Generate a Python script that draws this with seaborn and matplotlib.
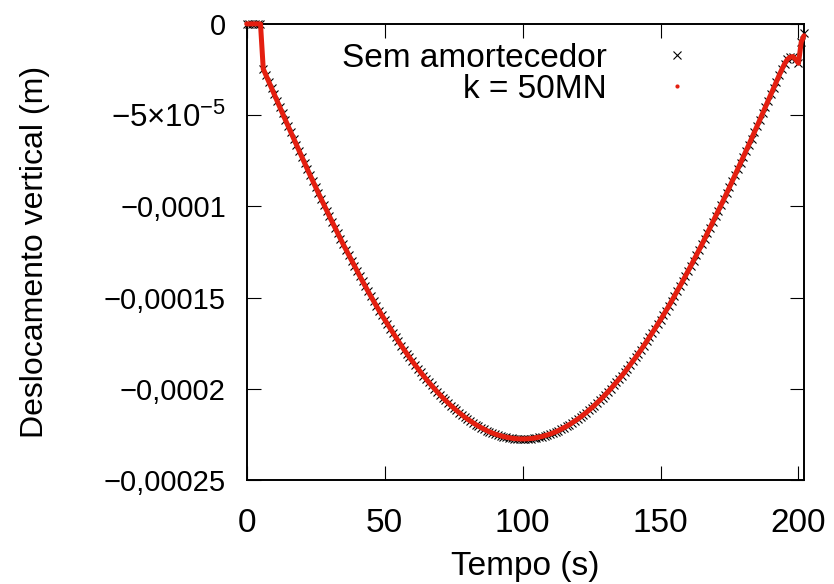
import matplotlib
matplotlib.use("Agg")
import matplotlib.pyplot as plt
import seaborn as sns
import pandas as pd
from matplotlib.lines import Line2D
from matplotlib.ticker import FixedLocator, FixedFormatter

# ---------------- data (deslocamento em micrometros) ----------------
tempo = [
    0, 1, 2, 3, 4, 5, 6, 7, 8, 9,
    10, 11, 12, 13, 14, 15, 16, 17, 18, 19,
    20, 21, 22, 23, 24, 25, 26, 27, 28, 29,
    30, 31, 32, 33, 34, 35, 36, 37, 38, 39,
    40, 41, 42, 43, 44, 45, 46, 47, 48, 49,
    50, 51, 52, 53, 54, 55, 56, 57, 58, 59,
    60, 61, 62, 63, 64, 65, 66, 67, 68, 69,
    70, 71, 72, 73, 74, 75, 76, 77, 78, 79,
    80, 81, 82, 83, 84, 85, 86, 87, 88, 89,
    90, 91, 92, 93, 94, 95, 96, 97, 98, 99,
    100, 101, 102, 103, 104, 105, 106, 107, 108, 109,
    110, 111, 112, 113, 114, 115, 116, 117, 118, 119,
    120, 121, 122, 123, 124, 125, 126, 127, 128, 129,
    130, 131, 132, 133, 134, 135, 136, 137, 138, 139,
    140, 141, 142, 143, 144, 145, 146, 147, 148, 149,
    150, 151, 152, 153, 154, 155, 156, 157, 158, 159,
    160, 161, 162, 163, 164, 165, 166, 167, 168, 169,
    170, 171, 172, 173, 174, 175, 176, 177, 178, 179,
    180, 181, 182, 183, 184, 185, 186, 187, 188, 189,
    190, 191, 192, 193, 194, 195, 196, 197, 198, 199,
    200, 201, 202,
]

k50mn_um = [
    0.0, 0.0, 0.0, 0.0, 0.0, 0.0, -24.7, -28.2, -31.7, -35.2,
    -38.7, -42.2, -45.7, -49.1, -52.6, -56.0, -59.5, -62.9, -66.3, -69.6,
    -73.0, -76.3, -79.7, -83.0, -86.2, -89.5, -92.8, -96.0, -99.2, -102.3,
    -105.5, -108.6, -111.7, -114.8, -117.8, -120.9, -123.8, -126.8, -129.7, -132.6,
    -135.5, -138.3, -141.1, -143.9, -146.6, -149.3, -152.0, -154.6, -157.2, -159.7,
    -162.1, -164.6, -167.0, -169.4, -171.7, -174.0, -176.3, -178.5, -180.7, -182.8,
    -184.9, -186.9, -188.9, -190.9, -192.8, -194.6, -196.4, -198.2, -199.9, -201.6,
    -203.2, -204.8, -206.3, -207.7, -209.2, -210.5, -211.8, -213.1, -214.3, -215.5,
    -216.6, -217.6, -218.6, -219.6, -220.5, -221.3, -222.1, -222.9, -223.6, -224.2,
    -224.8, -225.3, -225.7, -226.2, -226.5, -226.8, -227.1, -227.3, -227.4, -227.5,
    -227.5, -227.5, -227.4, -227.3, -227.1, -226.8, -226.5, -226.2, -225.7, -225.3,
    -224.8, -224.2, -223.6, -222.9, -222.1, -221.3, -220.5, -219.6, -218.6, -217.6,
    -216.6, -215.5, -214.3, -213.1, -211.8, -210.5, -209.2, -207.7, -206.3, -204.8,
    -203.2, -201.6, -199.9, -198.2, -196.4, -194.6, -192.8, -190.9, -188.9, -186.9,
    -184.9, -182.8, -180.7, -178.5, -176.3, -174.0, -171.7, -169.4, -167.0, -164.6,
    -162.1, -159.7, -157.2, -154.6, -152.0, -149.3, -146.6, -143.9, -141.1, -138.3,
    -135.5, -132.6, -129.7, -126.8, -123.8, -120.9, -117.8, -114.8, -111.7, -108.6,
    -105.5, -102.3, -99.2, -96.0, -92.8, -89.5, -86.2, -83.0, -79.7, -76.3,
    -73.0, -69.6, -66.3, -62.9, -59.5, -56.0, -52.6, -49.1, -45.7, -42.2,
    -38.7, -35.2, -31.7, -28.2, -24.9, -21.8, -19.4, -18.2, -17.9, -19.5,
    -21.6, -10.0, -6.5,
]

sem_amortecedor_um = [
    0.0, 0.0, 0.0, 0.0, 0.0, 0.0, -24.7, -28.2, -31.7, -35.2,
    -38.7, -42.2, -45.7, -49.1, -52.6, -56.0, -59.5, -62.9, -66.3, -69.6,
    -73.0, -76.3, -79.7, -83.0, -86.2, -89.5, -92.8, -96.0, -99.2, -102.3,
    -105.5, -108.6, -111.7, -114.8, -117.8, -120.9, -123.8, -126.8, -129.7, -132.6,
    -135.5, -138.3, -141.1, -143.9, -146.6, -149.3, -152.0, -154.6, -157.2, -159.7,
    -162.1, -164.6, -167.0, -169.4, -171.7, -174.0, -176.3, -178.5, -180.7, -182.8,
    -184.9, -186.9, -188.9, -190.9, -192.8, -194.6, -196.4, -198.2, -199.9, -201.6,
    -203.2, -204.8, -206.3, -207.7, -209.2, -210.5, -211.8, -213.1, -214.3, -215.5,
    -216.6, -217.6, -218.6, -219.6, -220.5, -221.3, -222.1, -222.9, -223.6, -224.2,
    -224.8, -225.3, -225.7, -226.2, -226.5, -226.8, -227.1, -227.3, -227.4, -227.5,
    -227.5, -227.5, -227.4, -227.3, -227.1, -226.8, -226.5, -226.2, -225.7, -225.3,
    -224.8, -224.2, -223.6, -222.9, -222.1, -221.3, -220.5, -219.6, -218.6, -217.6,
    -216.6, -215.5, -214.3, -213.1, -211.8, -210.5, -209.2, -207.7, -206.3, -204.8,
    -203.2, -201.6, -199.9, -198.2, -196.4, -194.6, -192.8, -190.9, -188.9, -186.9,
    -184.9, -182.8, -180.7, -178.5, -176.3, -174.0, -171.7, -169.4, -167.0, -164.6,
    -162.1, -159.7, -157.2, -154.6, -152.0, -149.3, -146.6, -143.9, -141.1, -138.3,
    -135.5, -132.6, -129.7, -126.8, -123.8, -120.9, -117.8, -114.8, -111.7, -108.6,
    -105.5, -102.3, -99.2, -96.0, -92.8, -89.5, -86.2, -83.0, -79.7, -76.3,
    -73.0, -69.6, -66.3, -62.9, -59.5, -56.0, -52.6, -49.1, -45.7, -42.2,
    -38.7, -35.2, -31.7, -28.2, -24.9, -21.8, -19.4, -18.2, -17.9, -19.5,
    -21.6, -10.0, -5.0,
]

serie_labels = ["Sem amortecedor", "k = 50MN"]
x_ticks = [0, 50, 100, 150, 200]
y_ticks = [0, -5e-5, -1e-4, -1.5e-4, -2e-4, -2.5e-4]
y_tick_labels = ["0", r"$\mathregular{-5{\times}10^{-5}}$", "\u22120,0001",
                 "\u22120,00015", "\u22120,0002", "\u22120,00025"]

# ---------------- style ----------------
sns.set_style("white")
plt.rcParams["font.family"] = ["Liberation Sans", "DejaVu Sans"]
plt.rcParams["mathtext.fontset"] = "custom"
plt.rcParams["mathtext.rm"] = "Liberation Sans"
plt.rcParams["mathtext.it"] = "Liberation Sans:italic"
plt.rcParams["mathtext.bf"] = "Liberation Sans:bold"
plt.rcParams["axes.unicode_minus"] = True
for key in ["text.color", "axes.labelcolor", "xtick.color", "ytick.color",
            "axes.edgecolor"]:
    plt.rcParams[key] = "black"

FS = 24
FS_Y = 21
RED = "#e41f10"

df_sem = pd.DataFrame({"tempo": tempo, "desloc": [v * 1e-6 for v in sem_amortecedor_um]})
df_k50 = pd.DataFrame({"tempo": tempo, "desloc": [v * 1e-6 for v in k50mn_um]})

fig = plt.figure(figsize=(8.34, 5.84), dpi=100)
ax = fig.add_axes([0.2958, 0.1781, 0.6682, 0.7810])

sns.lineplot(data=df_sem, x="tempo", y="desloc", ax=ax, color="black",
             errorbar=None, zorder=3)
ln_sem = ax.lines[-1]
ln_sem.set_linestyle("none")
ln_sem.set_marker("x")
ln_sem.set_markersize(6)
ln_sem.set_markeredgewidth(0.8)
ln_sem.set_markeredgecolor("black")
ln_sem.set_clip_on(False)

sns.lineplot(data=df_k50, x="tempo", y="desloc", ax=ax, color=RED,
             linewidth=3.6, errorbar=None, zorder=4)
ln_k = ax.lines[-1]
ln_k.set_solid_joinstyle("round")
ln_k.set_solid_capstyle("round")
ln_k.set_clip_on(False)

ax.set_xlim(0, 202)
ax.set_ylim(-2.5e-4, 0)
ax.xaxis.set_major_locator(FixedLocator(x_ticks))
ax.yaxis.set_major_locator(FixedLocator(y_ticks))
ax.yaxis.set_major_formatter(FixedFormatter(y_tick_labels))
ax.xaxis.set_major_formatter(FixedFormatter([str(v) for v in x_ticks]))

ax.tick_params(axis="both", which="major", direction="in", top=True, right=True,
               bottom=True, left=True, length=10, width=0.8, color="black")
ax.tick_params(axis="x", pad=20, labelsize=FS)
ax.tick_params(axis="y", pad=15, labelsize=FS_Y)
for s in ax.spines.values():
    s.set_linewidth(1.4)
    s.set_color("black")

fig.canvas.draw()
ax.get_yticklabels()[1].set_fontsize(22.5)

ax.set_xlabel("Tempo (s)", fontsize=FS, labelpad=9)
ax.set_ylabel("Deslocamento vertical (m)", fontsize=23, labelpad=39)

h1 = Line2D([0], [0], linestyle="none", marker="x", color="black",
            markeredgecolor="black", markersize=6.3, markeredgewidth=0.8)
h2 = Line2D([0], [0], linestyle="none", marker="o", color=RED,
            markersize=3.0, markeredgewidth=0)
leg = ax.legend(handles=[h1, h2], labels=serie_labels, loc="upper right",
                bbox_to_anchor=(0.802, 0.958), frameon=False, markerfirst=False,
                handlelength=1.0, handletextpad=1.6, labelspacing=0.0,
                borderpad=0, borderaxespad=0, fontsize=FS, numpoints=1)
leg.set_zorder(10)

fig.savefig("out.png", dpi=100)
